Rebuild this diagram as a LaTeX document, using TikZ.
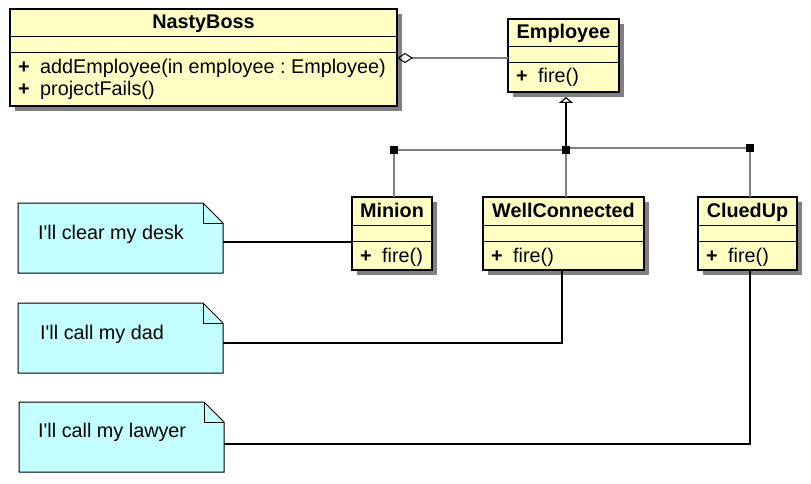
\documentclass[tikz,border=0pt]{standalone}
\usepackage{fontspec}
\setmainfont{Liberation Sans}[Ligatures=TeXOff]
\usetikzlibrary{arrows.meta,shadows,calc}
\definecolor{classfill}{HTML}{FFFFC4}
\definecolor{notefill}{HTML}{C4FFFF}
\definecolor{linkgray}{HTML}{808080}
\frenchspacing
\newcommand\umlclass[5]{%
  \node[classbox,minimum width=#3,minimum height=#4] (#1) at #2 {};
  \draw[sepline] ([yshift=-28pt]#1.north west) -- ([yshift=-28pt]#1.north east);
  \draw[sepline] ([yshift=-44pt]#1.north west) -- ([yshift=-44pt]#1.north east);
  \node[titletext] (#1-title) at ([yshift=-20pt]#1.north) {#5};
}
\newcommand\umlmethod[4]{%
  \node[methodtext] (#1-#2) at ([xshift=8pt,yshift=-#3]#1.north west) {\makebox[22pt][l]{\bfseries+}#4};
}
\newcommand\umlnote[5]{%
  \node[notebox] (#1) at #2 {};
  \path[noteshape] (#1.north west) -- ([xshift=-20pt]#1.north east) -- ([yshift=-20pt]#1.north east) -- (#1.south east) -- (#1.south west) -- cycle;
  \draw[line width=0.6pt] ([xshift=-20pt]#1.north east) |- ([yshift=-20pt]#1.north east);
  \node[notetext] (#1-text) at ([xshift=#3,yshift=-#4]#1.north west) {#5};
}
\begin{document}
\begin{tikzpicture}[x=1pt,y=-1pt,
  every node/.style={font=\fontsize{19.8}{22}\selectfont\frenchspacing},
  classbox/.style={draw=black,line width=1.2pt,fill=classfill,inner sep=0pt,outer sep=0pt,anchor=north west,
    drop shadow={shadow xshift=5pt,shadow yshift=-5pt,fill=linkgray,opacity=1,shadow scale=1}},
  sepline/.style={draw=black,line width=1pt},
  titletext/.style={anchor=base,inner sep=0pt,font=\fontsize{19.8}{22}\selectfont\bfseries},
  methodtext/.style={anchor=base west,inner sep=0pt},
  junc/.style={fill=black,inner sep=0pt,minimum size=8pt},
  genline/.style={draw=linkgray,line width=1.5pt},
  notebox/.style={anchor=north west,inner sep=0pt,outer sep=0pt,minimum width=205pt,minimum height=70pt},
  noteshape/.style={draw=black,line width=1pt,fill=notefill},
  notelink/.style={draw=black,line width=2pt},
  notetext/.style={anchor=base west,inner sep=0pt},
]
\useasboundingbox (0,0) rectangle (811,484);

% classes
\umlclass{boss}{(10,9)}{387pt}{97pt}{NastyBoss}
\umlmethod{boss}{m1}{65pt}{addEmployee(in employee : Employee)}
\umlmethod{boss}{m2}{87pt}{projectFails()}

\umlclass{emp}{(508,19)}{111pt}{73pt}{Employee}
\umlmethod{emp}{m1}{64pt}{fire()}

\umlclass{minion}{(352,197)}{80pt}{73pt}{Minion}
\umlmethod{minion}{m1}{65pt}{fire()}

\umlclass{wc}{(483,197)}{161pt}{73pt}{WellConnected}
\umlmethod{wc}{m1}{65pt}{fire()}

\umlclass{clued}{(698,197)}{99pt}{73pt}{CluedUp}
\umlmethod{clued}{m1}{65pt}{fire()}

% notes
\umlnote{n1}{(18,203)}{20pt}{36pt}{I'll clear my desk}
\umlnote{n2}{(18,303)}{22pt}{36pt}{I'll call my dad}
\umlnote{n3}{(19,402)}{19pt}{35pt}{I'll call my lawyer}

% aggregation
\coordinate (aggR) at ([yshift=-2.5pt]emp.west);
\draw[genline,{Diamond[open,color=black,length=16pt,width=10pt,line width=1pt]}-] (boss.east |- aggR) -- (aggR);

% generalization tree
\node[junc] (jM) at (394,150) {};
\node[junc] (jW) at (566,150) {};
\node[junc] (jC) at (750,148) {};
\draw[genline] (jM.center) -- (jW.center);
\draw[genline] (jW.center |- jC.center) -- (jC.center);
\draw[genline] (jM.center) -- (jM.center |- minion.north);
\draw[genline] (jW.center) -- (jW.center |- wc.north);
\draw[genline] (jC.center) -- (jC.center |- clued.north);
\coordinate (inhTip) at ($(jW.center |- emp.south)+(0,5)$);
\draw[black,line width=1.6pt,-{Triangle[open,length=6pt,width=14pt,line width=1.2pt]}] (jW.center) -- (inhTip);
\node[junc] at (jM) {};
\node[junc] at (jW) {};
\node[junc] at (jC) {};

% note links
\coordinate (l1) at ($(n1.east)+(0,4)$);
\draw[notelink] (l1) -- (l1 -| minion.west);
\coordinate (l2) at ($(n2.east)+(0,5)$);
\draw[notelink] (l2) -| ($(wc.south)+(-1.5,0)$);
\coordinate (l3) at ($(n3.east)+(0,7)$);
\draw[notelink] (l3) -| ($(clued.south)+(2.5,0)$);
\end{tikzpicture}
\end{document}
